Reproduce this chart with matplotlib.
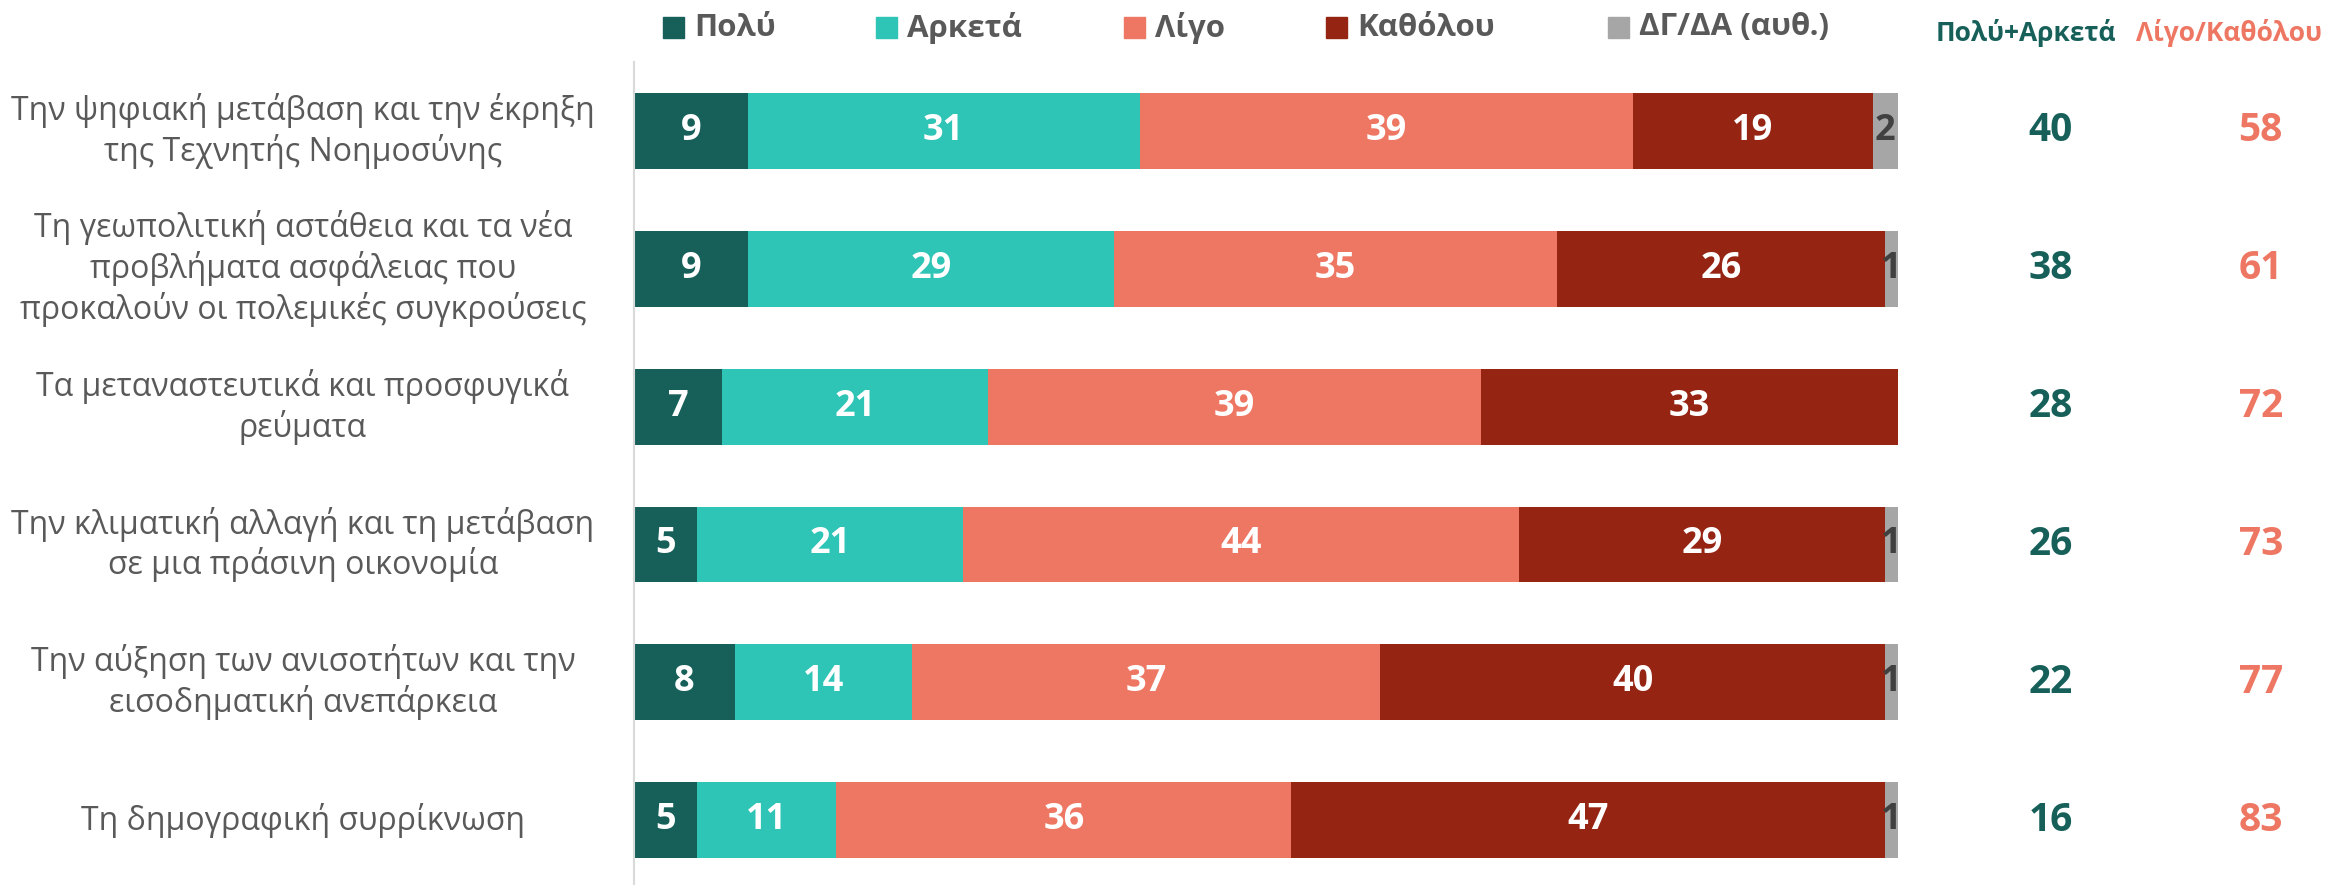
import matplotlib
matplotlib.use("Agg")
import matplotlib.pyplot as plt
from matplotlib.patches import Rectangle
import numpy as np

plt.rcParams['font.family'] = ['Open Sans', 'DejaVu Sans']

categories = [
    "Την ψηφιακή μετάβαση και την έκρηξη\nτης Τεχνητής Νοημοσύνης",
    "Τη γεωπολιτική αστάθεια και τα νέα\nπροβλήματα ασφάλειας που\nπροκαλούν οι πολεμικές συγκρούσεις",
    "Τα μεταναστευτικά και προσφυγικά\nρεύματα",
    "Την κλιματική αλλαγή και τη μετάβαση\nσε μια πράσινη οικονομία",
    "Την αύξηση των ανισοτήτων και την\nεισοδηματική ανεπάρκεια",
    "Τη δημογραφική συρρίκνωση",
]
series_names = ["Πολύ", "Αρκετά", "Λίγο", "Καθόλου", "ΔΓ/ΔΑ (αυθ.)"]
poly = [9, 9, 7, 5, 8, 5]
arketa = [31, 29, 21, 21, 14, 11]
ligo = [39, 35, 39, 44, 37, 36]
katholou = [19, 26, 33, 29, 40, 47]
dkna = [2, 1, 0, 1, 1, 1]
sum_positive = [40, 38, 28, 26, 22, 16]
sum_negative = [58, 61, 72, 73, 77, 83]
header_positive = "Πολύ+Αρκετά"
header_negative = "Λίγο/Καθόλου"

colors = ["#17605A", "#2EC4B6", "#EE7763", "#962413", "#A6A6A6"]
label_grey = "#595959"

W, H = 2331, 885
fig = plt.figure(figsize=(W / 100, H / 100), dpi=100)
ax = fig.add_axes([634 / W, 0, 1264 / W, 823 / H])

series = [poly, arketa, ligo, katholou, dkna]
y = np.arange(len(categories))
left = np.zeros(len(categories))
bar_h = 0.55
for i, vals in enumerate(series):
    vals = np.array(vals, dtype=float)
    ax.barh(y, vals, left=left, height=bar_h, color=colors[i], edgecolor='none')
    for j, v in enumerate(vals):
        if v <= 0:
            continue
        cx = left[j] + v / 2
        if i == 4:
            ax.text(cx, y[j], f"{int(v)}", ha='center', va='center',
                    color="#404040", fontsize=26, fontweight='bold', clip_on=False)
        else:
            ax.text(cx, y[j], f"{int(v)}", ha='center', va='center',
                    color='white', fontsize=26, fontweight='bold')
    left = left + vals

ax.set_xlim(0, 100)
ax.set_ylim(5.47, -0.5)
ax.set_xticks([])
ax.set_yticks([])
for s in ['top', 'right', 'bottom']:
    ax.spines[s].set_visible(False)
ax.spines['left'].set_color('#D9D9D9')
ax.spines['left'].set_linewidth(1.5)

# category labels
for j, cat in enumerate(categories):
    ax.text(-26.2, y[j], cat, ha='center', va='center', multialignment='center',
            color=label_grey, fontsize=23, linespacing=1.22, clip_on=False)

# right-hand totals
for j in range(len(categories)):
    ax.text(112.1, y[j], f"{sum_positive[j]}", ha='center', va='center',
            color=colors[0], fontsize=28, fontweight='bold', clip_on=False)
    ax.text(128.7, y[j], f"{sum_negative[j]}", ha='center', va='center',
            color=colors[2], fontsize=28, fontweight='bold', clip_on=False)

fig.text(2026 / W, 1 - 33 / H, header_positive, ha='center', va='center',
         color=colors[0], fontsize=19, fontweight='bold')
fig.text(2229 / W, 1 - 33 / H, header_negative, ha='center', va='center',
         color=colors[2], fontsize=19, fontweight='bold')

# legend
leg_x = [663, 876, 1124, 1326, 1608]
sq = 21
leg_y = 27.5
for k, name in enumerate(series_names):
    fig.patches.append(Rectangle((leg_x[k] / W, 1 - (leg_y + sq / 2) / H), sq / W, sq / H,
                                 transform=fig.transFigure, color=colors[k]))
    fig.text((leg_x[k] + 31) / W, 1 - leg_y / H, name, ha='left', va='center',
             color=label_grey, fontsize=22.5, fontweight='bold')

fig.savefig("out.png", dpi=100)
